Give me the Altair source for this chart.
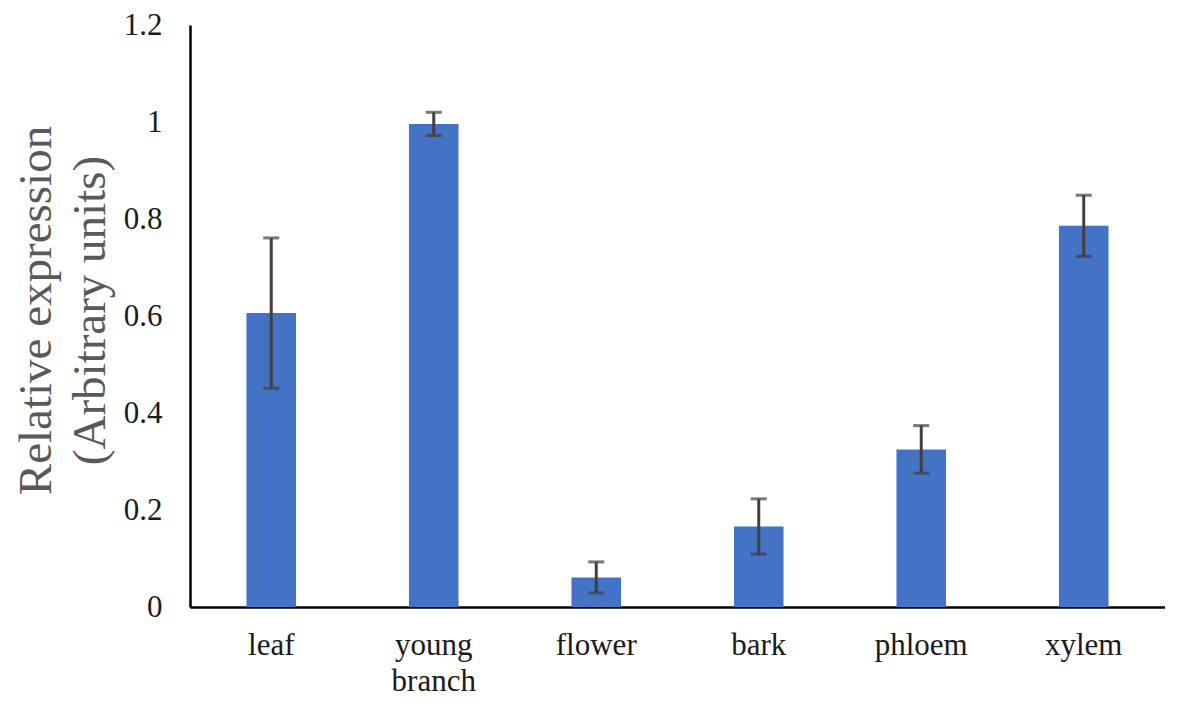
import altair as alt
import pandas as pd

tissues = ["leaf", "young branch", "flower", "bark", "phloem", "xylem"]
values = [0.606, 0.996, 0.061, 0.166, 0.325, 0.786]
errors = [0.155, 0.024, 0.032, 0.057, 0.049, 0.063]

df = pd.DataFrame({"tissue": tissues, "value": values, "err": errors})

x = alt.X(
    "tissue:N",
    sort=tissues,
    scale=alt.Scale(paddingInner=0.695, paddingOuter=0.3475),
    axis=alt.Axis(
        title=None,
        labelAngle=0,
        labelFont="Liberation Serif",
        labelFontSize=31,
        labelColor="#1a1a1a",
        labelPadding=23,
        labelLineHeight=36,
        labelExpr="split(datum.label, ' ')",
        ticks=False,
        domainColor="#000000",
        domainWidth=2.5,
        grid=False,
    ),
)

y_axis = alt.Axis(
    title=["Relative expression", "(Arbitrary units)"],
    titleFont="Liberation Serif",
    titleFontSize=47,
    titleFontWeight="normal",
    titleColor="#595959",
    titleLineHeight=54,
    titleAngle=270,
    titleAlign="center",
    titleBaseline="middle",
    titleX=-154,
    titleY=285,
    values=[0, 0.2, 0.4, 0.6, 0.8, 1.0, 1.2],
    format="~g",
    labelFont="Liberation Serif",
    labelFontSize=31,
    labelColor="#1a1a1a",
    labelPadding=28,
    ticks=False,
    domainColor="#000000",
    domainWidth=2.5,
    grid=False,
)

base = alt.Chart(df).transform_calculate(
    lo="datum.value - datum.err", hi="datum.value + datum.err"
)

bars = base.mark_bar(color="#4472C4").encode(
    x=x,
    y=alt.Y("value:Q", scale=alt.Scale(domain=[0, 1.2], nice=False), axis=y_axis),
)

rules = base.mark_rule(color="#404040", strokeWidth=3).encode(
    x=alt.X("tissue:N", sort=tissues), y="lo:Q", y2="hi:Q"
)
cap_hi = base.mark_tick(color="#404040", thickness=3, size=16, orient="horizontal").encode(
    x=alt.X("tissue:N", sort=tissues), y="hi:Q"
)
cap_lo = base.mark_tick(color="#404040", thickness=3, size=16, orient="horizontal").encode(
    x=alt.X("tissue:N", sort=tissues), y="lo:Q"
)

chart = (
    alt.layer(bars, rules, cap_hi, cap_lo)
    .properties(
        width=975,
        height=582,
        autosize=alt.AutoSizeParams(type="none"),
        padding={"left": 182, "top": 17, "right": 0, "bottom": 93},
        view=alt.ViewBackground(stroke=None),
    )
    .configure_view(stroke=None, strokeWidth=0)
    .configure(background="white")
)

chart.save("out.html", embed_options={"renderer": "svg", "actions": False})
